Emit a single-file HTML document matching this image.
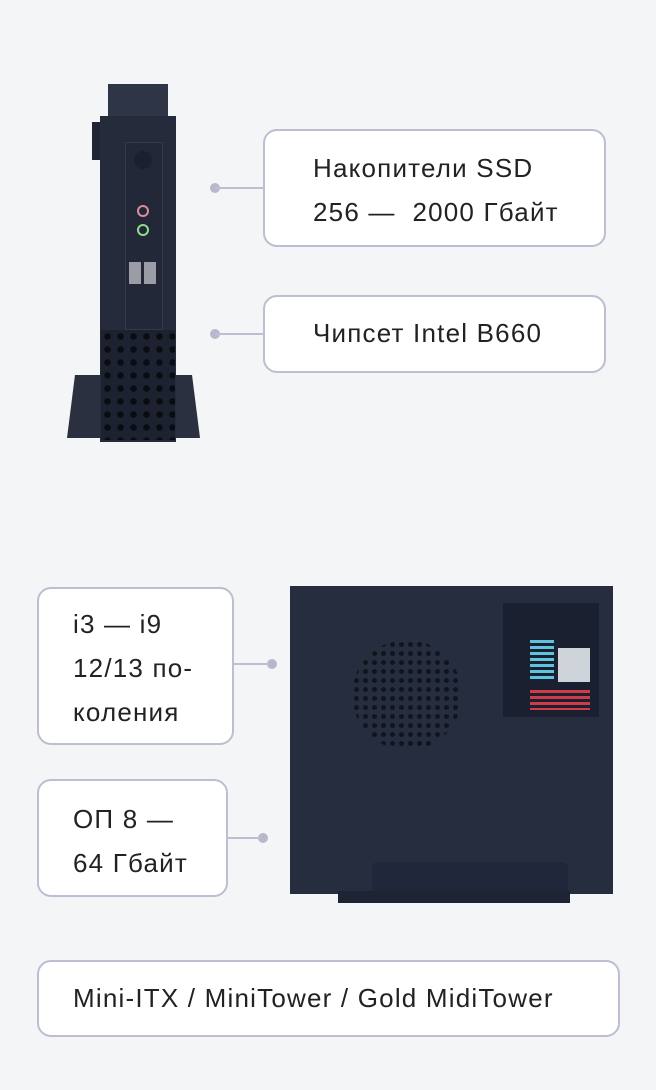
<!DOCTYPE html>
<html><head><meta charset="utf-8"><style>
body{margin:0;background:#f4f5f7;}
.w{position:relative;width:656px;height:1090px;overflow:hidden;background:#f4f5f7;font-family:"Liberation Sans",sans-serif;}
.b{position:absolute;box-sizing:border-box;background:#fff;border:2px solid #bdbdd3;border-radius:14px;color:#222;font-size:26px;letter-spacing:1.2px;line-height:44px;white-space:nowrap;}
.t{position:absolute;}
.d{position:absolute;width:10px;height:10px;border-radius:50%;background:#b8b8cc;}
.l{position:absolute;height:2px;background:#bdbdd3;}
.a{position:absolute;}
</style></head><body><div class="w">
<!-- front tower -->
<div class="a" style="left:67px;top:375px;width:133px;height:63px;background:#2b3040;clip-path:polygon(6% 0,94% 0,100% 100%,0 100%);"></div>
<div class="a" style="left:92px;top:122px;width:10px;height:38px;background:#1f2533;"></div>
<div class="a" style="left:108px;top:84px;width:60px;height:36px;background:#2e3547;"></div>
<div class="a" style="left:100px;top:116px;width:76px;height:326px;background:#252b3a;"></div>
<div class="a" style="left:125px;top:142px;width:36px;height:186px;background:#222838;border:1px solid #333a4c;"></div>
<div class="a" style="left:134px;top:151px;width:18px;height:18px;border-radius:50%;background:#1b2030;"></div>
<div class="a" style="left:137px;top:205px;width:8px;height:8px;border-radius:50%;border:2px solid #e38a9a;"></div>
<div class="a" style="left:137px;top:224px;width:8px;height:8px;border-radius:50%;border:2px solid #8fdc8f;"></div>
<div class="a" style="left:129px;top:262px;width:12px;height:22px;background:#9a9ca6;"></div>
<div class="a" style="left:144px;top:262px;width:12px;height:22px;background:#9a9ca6;"></div>
<div class="a" style="left:101px;top:330px;width:74px;height:110px;background:#1d2230;background-image:radial-gradient(circle,#0a0c12 3px,transparent 3.5px);background-size:13px 13px;"></div>
<!-- side case -->
<div class="a" style="left:290px;top:586px;width:323px;height:308px;background:#262d3f;"></div>
<div class="a" style="left:352px;top:640px;width:110px;height:110px;border-radius:50%;background-image:radial-gradient(circle,#11141c 2.2px,transparent 2.7px);background-size:9px 9px;"></div>
<div class="a" style="left:503px;top:603px;width:96px;height:114px;background:#1b2030;"></div>
<div class="a" style="left:530px;top:690px;width:60px;height:20px;background-image:repeating-linear-gradient(#d33a48 0 3px,transparent 3px 6px);"></div>
<div class="a" style="left:530px;top:640px;width:24px;height:40px;background-image:repeating-linear-gradient(#5fc3e0 0 3px,transparent 3px 6px);"></div>
<div class="a" style="left:558px;top:648px;width:32px;height:34px;background:#cfd3da;"></div>
<div class="a" style="left:372px;top:862px;width:196px;height:30px;background:#20273a;border-radius:6px 6px 0 0;"></div>
<div class="a" style="left:338px;top:891px;width:232px;height:12px;background:#1e2434;"></div>
<!-- boxes -->
<div class="d" style="left:210px;top:183px;"></div><div class="l" style="left:215px;top:187px;width:48px;"></div>
<div class="b" style="left:263px;top:129px;width:343px;height:118px;"><div class="t" style="left:48px;top:15px;">Накопители SSD<br>256 —&nbsp; 2000 Гбайт</div></div>
<div class="d" style="left:210px;top:329px;"></div><div class="l" style="left:215px;top:333px;width:48px;"></div>
<div class="b" style="left:263px;top:295px;width:343px;height:78px;"><div class="t" style="left:48px;top:14px;">Чипсет Intel B660</div></div>
<div class="d" style="left:267px;top:659px;"></div><div class="l" style="left:233px;top:663px;width:36px;"></div>
<div class="b" style="left:37px;top:587px;width:197px;height:158px;"><div class="t" style="left:34px;top:13px;">i3 — i9<br>12/13 по-<br>коления</div></div>
<div class="d" style="left:258px;top:833px;"></div><div class="l" style="left:227px;top:837px;width:34px;"></div>
<div class="b" style="left:37px;top:779px;width:191px;height:118px;"><div class="t" style="left:34px;top:16px;">ОП 8 —<br>64 Гбайт</div></div>
<div class="b" style="left:37px;top:960px;width:583px;height:77px;"><div class="t" style="left:34px;top:14px;">Mini-ITX / MiniTower / Gold MidiTower</div></div>
</div></body></html>
